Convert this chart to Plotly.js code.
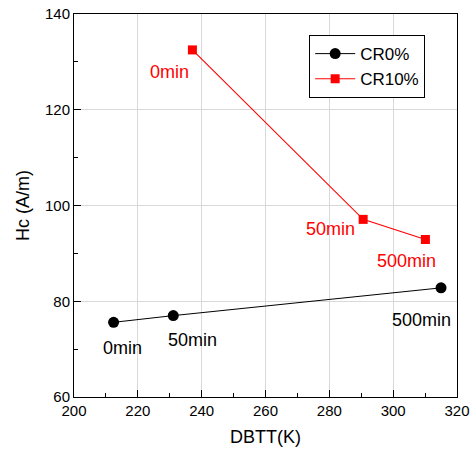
<!DOCTYPE html>
<html>
<head>
<meta charset="utf-8">
<script src="https://cdn.plot.ly/plotly-3.0.1.min.js"></script>
<style>html,body{margin:0;padding:0;background:#fff;}#chart{width:471px;height:453px;}</style>
</head>
<body>
<div id="chart"></div>
<script>
const seriesNames = ["CR0%", "CR10%"];
const cr0_dbtt = [212.4, 231.1, 315.0];
const cr0_hc = [75.6, 77.0, 82.8];
const cr10_dbtt = [237.1, 290.6, 310.1];
const cr10_hc = [132.5, 97.1, 92.9];
const timeLabels = ["0min", "50min", "500min"];

const cr0_shift = [[9, -26], [19, -24], [-20, -32]];
const cr10_shift = [[-23, -22], [-33, -10], [-19, -22]];

const FONT = "Liberation Sans, Arial, sans-serif";

const traces = [
  {x: cr0_dbtt, y: cr0_hc, name: seriesNames[0], type: "scatter", mode: "lines+markers",
   line: {color: "#000000", width: 1}, marker: {symbol: "circle", size: 11, color: "#000000"}},
  {x: cr10_dbtt, y: cr10_hc, name: seriesNames[1], type: "scatter", mode: "lines+markers",
   line: {color: "#ff0000", width: 1.1}, marker: {symbol: "square", size: 9, color: "#ff0000"}}
];

const annotations = [];
timeLabels.forEach((t, i) => {
  annotations.push({x: cr0_dbtt[i], y: cr0_hc[i], xref: "x", yref: "y", text: t, showarrow: false,
    xshift: cr0_shift[i][0], yshift: cr0_shift[i][1], font: {family: FONT, size: 18, color: "#000000"}});
  annotations.push({x: cr10_dbtt[i], y: cr10_hc[i], xref: "x", yref: "y", text: t, showarrow: false,
    xshift: cr10_shift[i][0], yshift: cr10_shift[i][1], font: {family: FONT, size: 18, color: "#ff0000"}});
});

const axisCommon = {
  showline: true, linecolor: "#000000", linewidth: 1, mirror: true,
  ticks: "inside", ticklen: 7, tickwidth: 1, tickcolor: "#000000",
  showgrid: true, gridcolor: "#d9d9d9", gridwidth: 1, zeroline: false,
  tickfont: {family: FONT, size: 15, color: "#000000"},
  minor: {ticks: "inside", ticklen: 4, tickwidth: 1, tickcolor: "#000000", showgrid: false}
};

const layout = {
  width: 471, height: 453,
  margin: {l: 74, r: 14, t: 14, b: 56},
  paper_bgcolor: "#ffffff", plot_bgcolor: "#ffffff",
  font: {family: FONT, color: "#000000"},
  showlegend: true,
  legend: {x: 0.614, y: 0.945, xanchor: "left", yanchor: "top", bgcolor: "#ffffff",
    bordercolor: "#000000", borderwidth: 1, font: {family: FONT, size: 17, color: "#000000"},
    tracegroupgap: 0, entrywidth: 122, entrywidthmode: "pixels", itemwidth: 40},
  xaxis: Object.assign({}, axisCommon, {range: [200, 320], dtick: 20, tick0: 200,
    minor: Object.assign({}, axisCommon.minor, {dtick: 10}),
    title: {text: "DBTT(K)", font: {family: FONT, size: 18, color: "#000000"}, standoff: 12}}),
  yaxis: Object.assign({}, axisCommon, {range: [60, 140], dtick: 20, tick0: 60,
    minor: Object.assign({}, axisCommon.minor, {dtick: 10}),
    title: {text: "Hc (A/m)", font: {family: FONT, size: 18, color: "#000000"}, standoff: 10}}),
  annotations: annotations
};

Plotly.newPlot("chart", traces, layout, {displayModeBar: false, staticPlot: true});
</script>
</body>
</html>
